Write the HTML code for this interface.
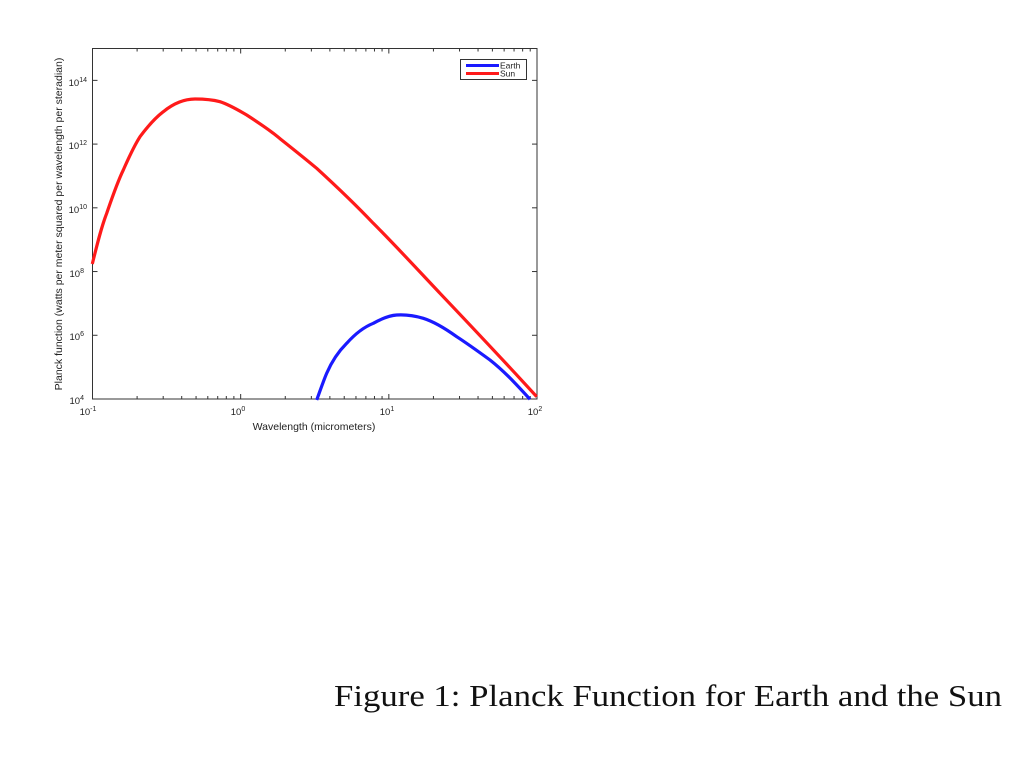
<!DOCTYPE html>
<html><head><meta charset="utf-8"><style>
body{margin:0;background:#fff;}
svg{display:block}
</style></head><body>
<svg width="1024" height="763" viewBox="0 0 1024 763" xmlns="http://www.w3.org/2000/svg" font-family="Liberation Sans, sans-serif">
<rect width="1024" height="763" fill="#fff"/>
<g id="ticks" stroke="#333" stroke-width="1"></g>
<rect x="92.5" y="48.5" width="444.5" height="350.5" fill="none" stroke="#333" stroke-width="1"/>
<g font-size="9.5" fill="#222" text-anchor="middle">
<text x="88" y="415">10<tspan dy="-4" font-size="7">-1</tspan></text>
<text x="238" y="415">10<tspan dy="-4" font-size="7">0</tspan></text>
<text x="387" y="415">10<tspan dy="-4" font-size="7">1</tspan></text>
<text x="535" y="415">10<tspan dy="-4" font-size="7">2</tspan></text>
</g>
<g font-size="9.5" fill="#222" text-anchor="end">
<text x="84" y="404">10<tspan dy="-4" font-size="7">4</tspan></text>
<text x="84" y="340">10<tspan dy="-4" font-size="7">6</tspan></text>
<text x="84" y="277">10<tspan dy="-4" font-size="7">8</tspan></text>
<text x="87" y="213">10<tspan dy="-4" font-size="7">10</tspan></text>
<text x="87" y="149">10<tspan dy="-4" font-size="7">12</tspan></text>
<text x="87" y="86">10<tspan dy="-4" font-size="7">14</tspan></text>
</g>
<text x="314" y="430" font-size="10.5" fill="#222" text-anchor="middle">Wavelength (micrometers)</text>
<text transform="translate(62,224) rotate(-90)" font-size="10.5" fill="#222" text-anchor="middle">Planck function (watts per meter squared per wavelength per steradian)</text>
<path fill="none" stroke="#ff1a1a" stroke-width="3.2" stroke-linejoin="round" d="M92.3,264 C97,245 101,228 106.7,213.3 C112,198 117,183 123.3,170 C129,157 134,146 140,136.7 C148,126 155,118 163.3,111.7 C174,103 185,99 195,99 C204,99 212,99.5 220,101.7 C230,105 238,110 246.7,115 C256,121 265,127 273.3,133.3 C288,145 302,156 316.7,168.3 C336,186 355,204 373.3,223.3 C396,246 418,270 440,293.3 C472,327 505,362 536.7,396.7"/>
<path fill="none" stroke="#1a1aff" stroke-width="3.2" stroke-linejoin="round" d="M316.7,400 C320,391 323,382 326.7,373.3 C332,361 339,351 346.7,343.3 C355,334 364,327 373.3,323.3 C381,319 389,315.5 396.7,315 C405,314.5 414,315.5 423.3,318.3 C435,322 446,329 456.7,336.7 C468,344 479,352 490,360 C504,371 517,385 530,399.3"/>
<rect x="460.5" y="59.5" width="66" height="20" fill="#fff" stroke="#333" stroke-width="1"/>
<line x1="466" y1="65.5" x2="499" y2="65.5" stroke="#1a1aff" stroke-width="3"/>
<line x1="466" y1="73.5" x2="499" y2="73.5" stroke="#ff1a1a" stroke-width="3"/>
<text x="500" y="68.5" font-size="8.5" fill="#222">Earth</text>
<text x="500" y="76.5" font-size="8.5" fill="#222">Sun</text>
<text x="334" y="706" font-family="Liberation Serif, serif" font-size="31" fill="#111" textLength="668" lengthAdjust="spacingAndGlyphs">Figure 1: Planck Function for Earth and the Sun</text>
</svg>
<script>
(function(){
var g=document.getElementById('ticks'),s='';
var L=92.5,R=537,T=48.5,B=399;
var dx=(R-L)/3;
for(var d=0;d<3;d++){for(var k=1;k<=10;k++){
 if(d<2&&k==10)continue;
 var x=L+dx*(d+Math.log10(k)); var len=(k==1||k==10)?5:3;
 s+='<line x1="'+x+'" y1="'+B+'" x2="'+x+'" y2="'+(B-len)+'"/>';
 s+='<line x1="'+x+'" y1="'+T+'" x2="'+x+'" y2="'+(T+len)+'"/>';
}}
var dy=(B-T)/11;
for(var e=4;e<=14;e+=2){var y=B-dy*(e-4);
 s+='<line x1="'+L+'" y1="'+y+'" x2="'+(L+5)+'" y2="'+y+'"/>';
 s+='<line x1="'+R+'" y1="'+y+'" x2="'+(R-5)+'" y2="'+y+'"/>';}
g.innerHTML=s;
})();
</script>
</body></html>
